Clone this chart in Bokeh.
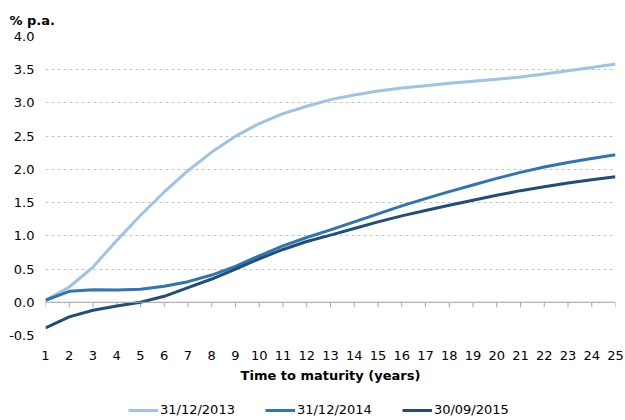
from bokeh.plotting import figure
from bokeh.layouts import column
from bokeh.models import (Range1d, FixedTicker, NumeralTickFormatter, Span,
                          Legend, LegendItem)
from bokeh.embed import file_html
from bokeh.resources import INLINE

# ---- data ----
maturity = list(range(1, 26))
y_ticks = [-0.5, 0.0, 0.5, 1.0, 1.5, 2.0, 2.5, 3.0, 3.5, 4.0]
series_labels = ["31/12/2013", "31/12/2014", "30/09/2015"]
curve_2013 = [0.03, 0.23, 0.53, 0.93, 1.31, 1.66, 1.98, 2.26, 2.50, 2.69, 2.84, 2.95, 3.05,
              3.12, 3.18, 3.225, 3.26, 3.295, 3.325, 3.355, 3.39, 3.435, 3.485, 3.535, 3.585]
curve_2014 = [0.03, 0.165, 0.19, 0.185, 0.195, 0.24, 0.31, 0.41, 0.54, 0.70, 0.85, 0.975, 1.09,
              1.21, 1.33, 1.45, 1.56, 1.665, 1.765, 1.865, 1.955, 2.035, 2.105, 2.165, 2.22]
curve_2015 = [-0.385, -0.22, -0.12, -0.055, 0.0, 0.09, 0.22, 0.35, 0.50, 0.655, 0.795, 0.915, 1.01,
              1.11, 1.21, 1.30, 1.38, 1.46, 1.535, 1.61, 1.68, 1.74, 1.795, 1.845, 1.89]
colors = ["#9DC3E6", "#2E75B6", "#1F4E79"]

FONT = "DejaVu Sans"
series = [curve_2013, curve_2014, curve_2015]

p = figure(width=625, height=390, output_backend="svg", toolbar_location=None,
           x_range=Range1d(1, 25), y_range=Range1d(-0.5, 4.0),
           min_border_left=45, min_border_right=10, min_border_top=36, min_border_bottom=55)
p.outline_line_color = None
p.background_fill_color = "white"
p.border_fill_color = "white"

# title as the y-axis caption
p.title.text = "% p.a."
p.title.text_font = FONT
p.title.text_font_size = "13px"
p.title.text_font_style = "bold"
p.title.align = "left"
p.title.offset = -36
p.title.standoff = 17
p.title.text_color = "black"

# y axis
p.yaxis.ticker = FixedTicker(ticks=y_ticks)
p.yaxis.formatter = NumeralTickFormatter(format="0.0")
p.yaxis.axis_line_color = None
p.yaxis.major_tick_line_color = None
p.yaxis.major_tick_out = 0
p.yaxis.minor_tick_line_color = None
p.yaxis.major_label_standoff = 11
p.yaxis.major_label_text_font = FONT
p.yaxis.major_label_text_font_size = "13px"
p.yaxis.major_label_text_color = "black"

p.ygrid.ticker = FixedTicker(ticks=y_ticks)
p.ygrid.grid_line_color = "#C4C4C4"
p.ygrid.grid_line_dash = "3 3"
p.ygrid.grid_line_width = 1
p.xgrid.grid_line_color = None

# x axis (labels below)
p.xaxis.ticker = FixedTicker(ticks=maturity)
p.xaxis.axis_line_color = None
p.xaxis.major_tick_line_color = None
p.xaxis.minor_tick_line_color = None
p.xaxis.major_tick_out = 6
p.xaxis.major_label_standoff = 9
p.xaxis.major_label_text_font = FONT
p.xaxis.major_label_text_font_size = "13px"
p.xaxis.major_label_text_color = "black"
p.xaxis.axis_label = "Time to maturity (years)"
p.xaxis.axis_label_text_font = FONT
p.xaxis.axis_label_text_font_size = "13px"
p.xaxis.axis_label_text_font_style = "bold"
p.xaxis.axis_label_text_color = "black"
p.xaxis.axis_label_standoff = 5

# axis line at zero with small tick marks
p.add_layout(Span(location=0, dimension="width", line_color="#A6A6A6", line_width=1))
p.segment(x0=maturity, y0=[0] * len(maturity), x1=maturity, y1=[-0.075] * len(maturity),
          line_color="#A6A6A6", line_width=1)

for ys, c in zip(series, colors):
    p.line(maturity, ys, line_color=c, line_width=3, line_join="round")

# legend strip below the chart (its series lie outside its view; only the legend shows)
lg = figure(width=625, height=30, output_backend="svg", toolbar_location=None,
            x_range=Range1d(100, 101), y_range=Range1d(100, 101),
            x_axis_type=None, y_axis_type=None, min_border=0,
            min_border_left=0, min_border_right=0, min_border_top=0, min_border_bottom=0)
lg.outline_line_color = None
lg.xgrid.grid_line_color = None
lg.ygrid.grid_line_color = None
keys = [lg.line(maturity, ys, line_color=c, line_width=3) for ys, c in zip(series, colors)]
legend = Legend(items=[LegendItem(label=l, renderers=[r]) for l, r in zip(series_labels, keys)],
                orientation="horizontal", location=(83, 3))
legend.label_text_font = FONT
legend.label_text_font_size = "13px"
legend.label_text_color = "black"
legend.glyph_width = 30
legend.glyph_height = 14
legend.label_standoff = 2
legend.spacing = 30
legend.padding = 2
legend.margin = 0
legend.border_line_color = None
legend.background_fill_alpha = 0
lg.add_layout(legend)

layout = column(p, lg, spacing=0)
open("out.html", "w").write(file_html(layout, INLINE))
